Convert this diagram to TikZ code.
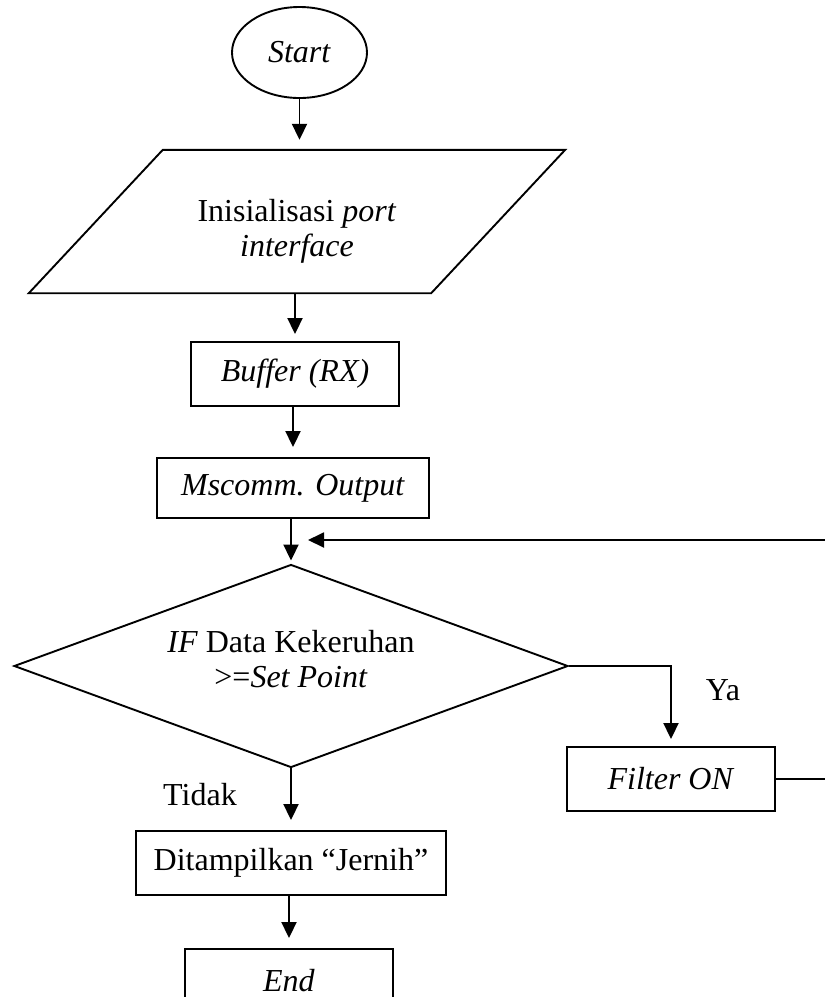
\documentclass[tikz,border=0pt]{standalone}
\usepackage{fontspec}
\setmainfont{Liberation Serif}
\usetikzlibrary{shapes.geometric,arrows.meta,calc}

\begin{document}
\begin{tikzpicture}[x=1pt,y=-1pt,
  font=\fontsize{32}{35}\selectfont,
  flow/.style={line width=1.9pt},
  arr/.style={flow,-{Triangle[length=16pt,width=15pt]},shorten >=9pt},
  proc/.style={draw,line width=1.9pt,rectangle,minimum width=208pt,
    minimum height=64pt,inner sep=0pt,align=center},
  terminal/.style={draw,line width=1.9pt,ellipse,minimum width=135pt,
    minimum height=91pt,inner sep=0pt},
  iobody/.style={rectangle,minimum width=402pt,minimum height=143pt,inner sep=0pt},
  decision/.style={draw,line width=1.9pt,diamond,shape aspect=2.73,
    minimum width=554pt,minimum height=203pt,inner sep=0pt},
  lbl/.style={inner sep=0pt,align=center}
]
\useasboundingbox (0,0) rectangle (825,997);
\clip (0,0) rectangle (825,997);

% main column
\node[terminal] (start) at (299.5,52.5) {\textit{Start}};

% input/output parallelogram, slanted by 67pt at top and bottom
\node[iobody] (init) at (297,221.5) {};
\draw[flow] ($(init.north west)+(67,0)$) -- ($(init.north east)+(67,0)$)
  -- ($(init.south east)+(-67,0)$) -- ($(init.south west)+(-67,0)$) -- cycle;
\node[lbl] (inittxt) at (297,231) {Inisialisasi \textit{port}\\\textit{interface}};

\node[proc] (buffer) at (295,374) {\textit{Buffer (RX)}};
\node[proc,minimum width=272pt,minimum height=60pt] (mscomm) at (293,488) {\textit{Mscomm. Output}};

\node[decision] (dec) at (291,666) {};
\node[lbl] (dectxt) at (291,659) {\textit{IF} Data Kekeruhan\\>=\textit{Set Point}};

\node[proc,minimum width=310pt] (show) at (291,863) {Ditampilkan “Jernih”};
\node[proc] (end) at (289,981) {\textit{End}};

% branch on the right
\node[proc] (filter) at (671,779) {\textit{Filter ON}};

% branch labels
\node[lbl] (ya) at (723,690) {Ya};
\node[lbl] (tidak) at (200,795) {Tidak};

% return path of the loop
\coordinate (loopx) at (850,0);
\coordinate (fbtip) at (308,540);

% connectors
\draw[arr,shorten >=10pt] (start.south) -- (start.south |- init.north);
\draw[arr,shorten >=7pt] (init.south -| buffer.north) -- (buffer.north);
\draw[arr,shorten >=10pt] (buffer.south -| mscomm.north) -- (mscomm.north);
\draw[arr,shorten >=3pt] (mscomm.south -| dec.north) -- (dec.north);
\draw[arr,shorten >=10pt] (dec.south) -- (dec.south |- show.north);
\draw[arr,shorten >=10pt] (show.south -| end.north) -- (end.north);
\draw[arr,shorten >=7pt] (dec.east) -| (filter.north);
\draw[arr,shorten >=0pt] (filter.east) -- (filter.east -| loopx)
  -- (loopx |- fbtip) -- (fbtip);
\end{tikzpicture}
\end{document}
